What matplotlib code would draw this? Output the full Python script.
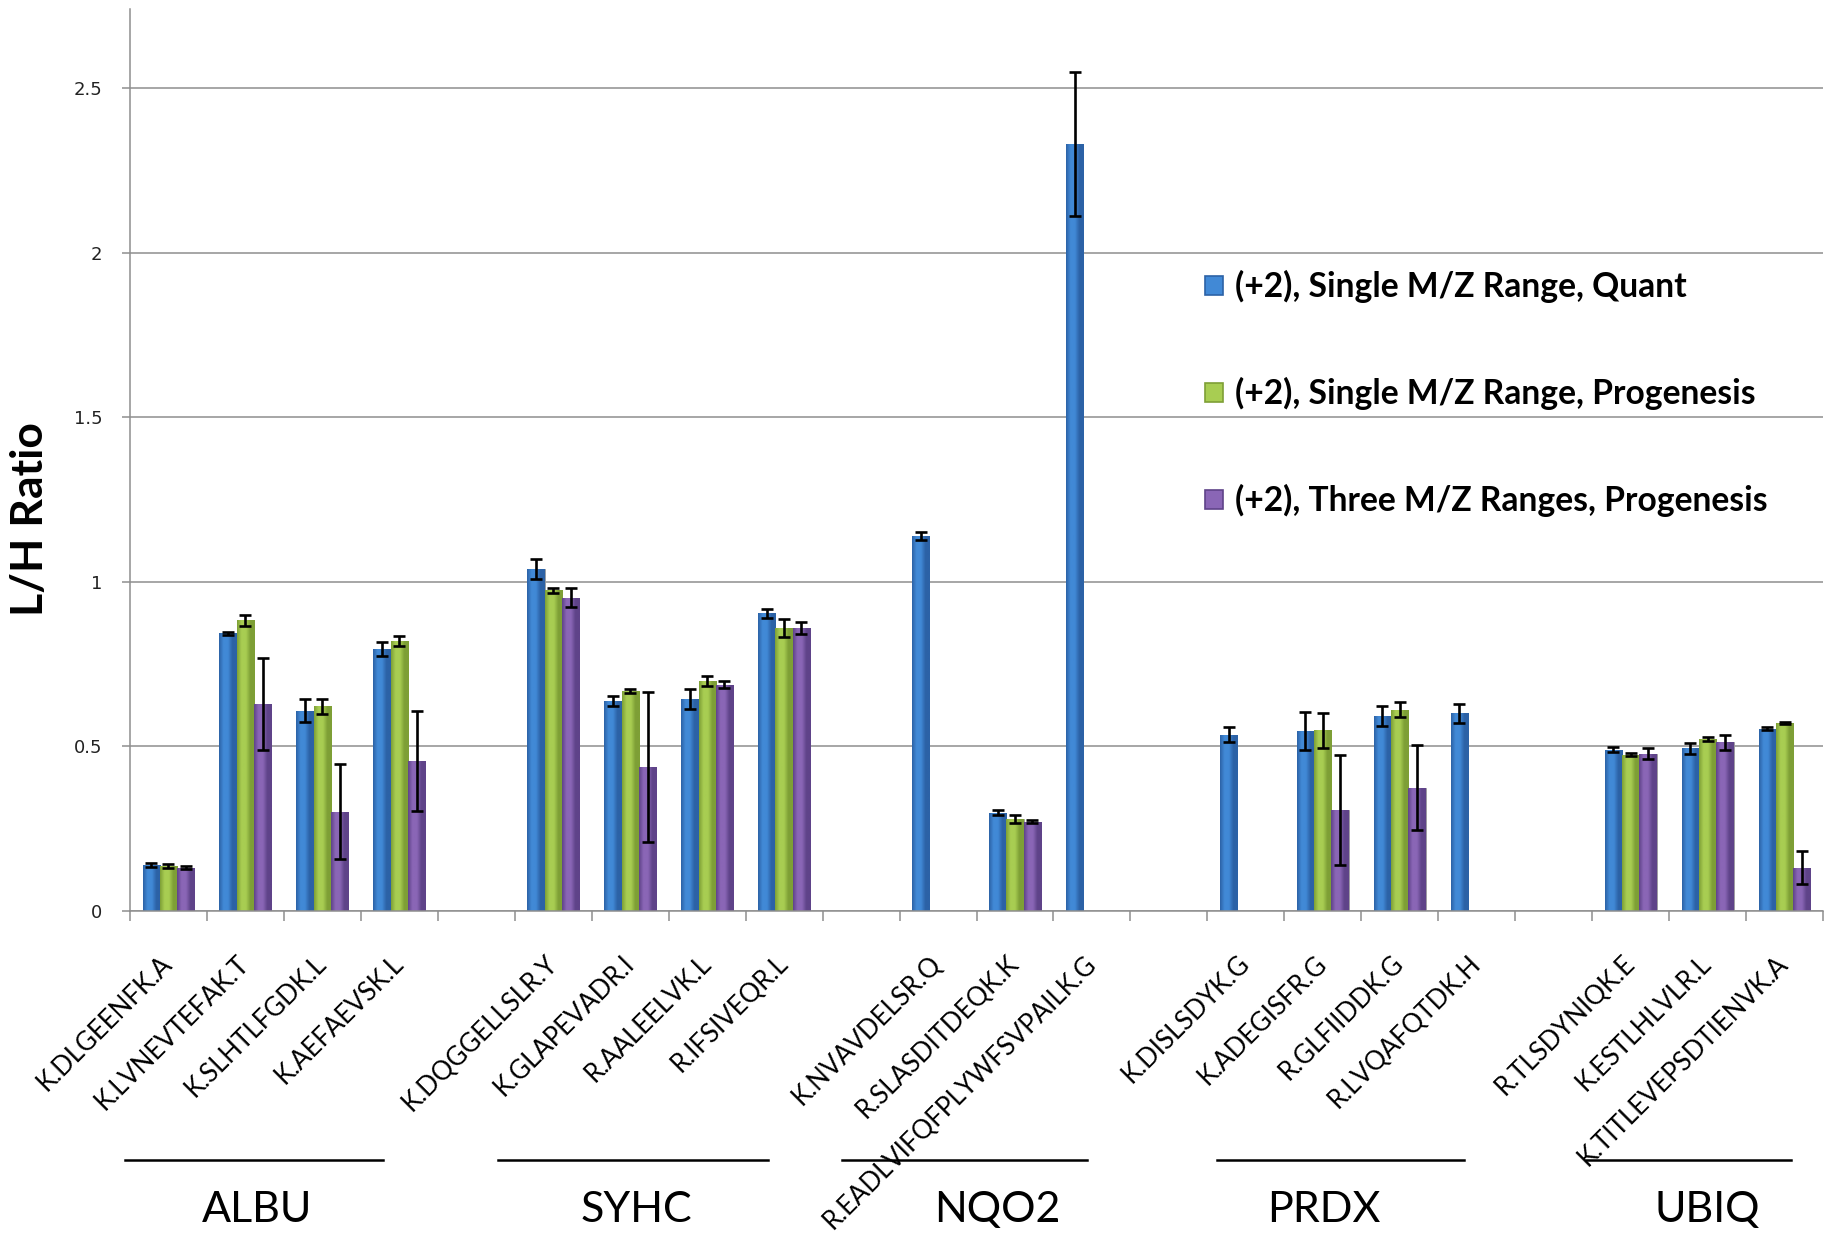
import numpy as np
import matplotlib
matplotlib.use("Agg")
import matplotlib.pyplot as plt
from matplotlib.colors import LinearSegmentedColormap
from matplotlib.patches import Patch
from matplotlib.lines import Line2D

nan = np.nan

# ---------------- data ----------------
peptides = ["K.DLGEENFK.A", "K.LVNEVTEFAK.T", "K.SLHTLFGDK.L", "K.AEFAEVSK.L", "",
            "K.DQGGELLSLR.Y", "K.GLAPEVADR.I", "R.AALEELVK.L", "R.IFSIVEQR.L", "",
            "K.NVAVDELSR.Q", "R.SLASDITDEQK.K", "R.EADLVIFQFPLYWFSVPAILK.G", "",
            "K.DISLSDYK.G", "K.ADEGISFR.G", "R.GLFIIDDK.G", "R.LVQAFQTDK.H", "",
            "R.TLSDYNIQK.E", "K.ESTLHLVLR.L", "K.TITLEVEPSDTIENVK.A"]

quant_single = [0.140, 0.843, 0.609, 0.797, nan,
                1.040, 0.638, 0.644, 0.904, nan,
                1.140, 0.299, 2.330, nan,
                0.536, 0.546, 0.593, 0.600, nan,
                0.490, 0.494, 0.554]
quant_single_err = [0.005, 0.005, 0.035, 0.021, nan,
                    0.030, 0.014, 0.029, 0.014, nan,
                    0.012, 0.008, 0.220, nan,
                    0.023, 0.058, 0.030, 0.029, nan,
                    0.008, 0.016, 0.004]

prog_single = [0.137, 0.883, 0.622, 0.820, nan,
               0.974, 0.669, 0.698, 0.860, nan,
               nan, 0.279, nan, nan,
               nan, 0.549, 0.612, nan, nan,
               0.475, 0.523, 0.571]
prog_single_err = [0.005, 0.017, 0.023, 0.015, nan,
                   0.007, 0.006, 0.015, 0.027, nan,
                   nan, 0.012, nan, nan,
                   nan, 0.053, 0.023, nan, nan,
                   0.004, 0.006, 0.004]

prog_three = [0.132, 0.630, 0.302, 0.456, nan,
              0.952, 0.437, 0.688, 0.859, nan,
              nan, 0.271, nan, nan,
              nan, 0.307, 0.375, nan, nan,
              0.478, 0.512, 0.132]
prog_three_err = [0.005, 0.140, 0.144, 0.153, nan,
                  0.030, 0.227, 0.012, 0.019, nan,
                  nan, 0.005, nan, nan,
                  nan, 0.167, 0.130, nan, nan,
                  0.016, 0.023, 0.051]

series_names = ["(+2), Single M/Z Range, Quant",
                "(+2), Single M/Z Range, Progenesis",
                "(+2), Three M/Z Ranges, Progenesis"]

proteins = ["ALBU", "SYHC", "NQO2", "PRDX", "UBIQ"]
y_ticks = [0, 0.5, 1, 1.5, 2, 2.5]
y_tick_labels = ["0", "0.5", "1", "1.5", "2", "2.5"]

# ---------------- style ----------------
# (dark edge, light centre) for each series
series_colors = [("#2C62A6", "#4189D6"),
                 ("#7E9F36", "#A8CD52"),
                 ("#5F4389", "#8A66B6")]
grid_color = "#8E8E8E"
label_font = ["Lato", "DejaVu Sans"]

fig = plt.figure(figsize=(18.29, 12.40), dpi=100)
ax = fig.add_axes([130 / 1829, (1240 - 911) / 1240, 1693 / 1829, 902 / 1240])

n = len(peptides)
x = np.arange(n)
bw = 0.225
offsets = [-bw, 0.0, bw]
all_vals = [quant_single, prog_single, prog_three]
all_errs = [quant_single_err, prog_single_err, prog_three_err]

ax.set_xlim(-0.5, n - 0.5)
ax.set_ylim(0, 2.74)

for i, (vals, errs) in enumerate(zip(all_vals, all_errs)):
    v = np.array(vals, dtype=float)
    e = np.array(errs, dtype=float)
    dark, light = series_colors[i]
    bars = ax.bar(x + offsets[i], np.nan_to_num(v), width=bw, color=light,
                  edgecolor="#9a9a9a", linewidth=0.6, zorder=2)
    cmap = LinearSegmentedColormap.from_list(
        f"s{i}", [dark, light, light, dark, dark], N=64)
    grad = np.linspace(0, 1, 64).reshape(1, -1)
    for b, val in zip(bars, v):
        if np.isnan(val) or val <= 0:
            b.set_visible(False)
            continue
        x0, w, h = b.get_x(), b.get_width(), b.get_height()
        im = ax.imshow(grad, cmap=cmap, aspect="auto", extent=(x0, x0 + w, 0, h),
                       zorder=2.5, interpolation="bilinear")
        im.set_clip_path(b)
    ax.errorbar(x + offsets[i], v, yerr=e, fmt="none", ecolor="black",
                elinewidth=1.9, capsize=4.5, capthick=1.9, zorder=4)

ax.set_xlim(-0.5, n - 0.5)
ax.set_ylim(0, 2.74)

# grid & spines
ax.set_yticks(y_ticks)
ax.set_yticklabels(y_tick_labels, fontsize=13, family="DejaVu Sans", color="#222222")
ax.yaxis.grid(True, color=grid_color, linewidth=1.1, zorder=0)
ax.set_axisbelow(True)
for s in ["top", "right"]:
    ax.spines[s].set_visible(False)
for s in ["left", "bottom"]:
    ax.spines[s].set_color(grid_color)
    ax.spines[s].set_linewidth(1.1)
ax.tick_params(axis="y", length=6, width=1.1, color=grid_color, pad=14)

# x ticks: boundaries as major ticks, labels at slot centres
ax.set_xticks(np.arange(n + 1) - 0.5)
ax.set_xticklabels([])
ax.tick_params(axis="x", which="major", length=7, width=1.1, color=grid_color)
ax.set_xticks(x, minor=True)
ax.set_xticklabels(peptides, minor=True, rotation=45, ha="right", va="center",
                   rotation_mode="anchor", fontsize=18.5, family=label_font)
ax.tick_params(axis="x", which="minor", length=0, pad=35)

ax.set_ylabel("L/H Ratio", fontsize=32, fontweight="bold", family=label_font)
ax.yaxis.set_label_coords(-0.0473, 0.4346)

# protein group lines and names (figure pixel layout)
W, H = 1829, 1240
group_lines = [(125, 383), (498, 768), (842, 1087), (1217, 1464), (1586, 1791)]
group_centers = [257, 636, 997, 1324, 1707]
for (a, b), c, name in zip(group_lines, group_centers, proteins):
    fig.add_artist(Line2D([a / W, b / W], [1 - 1159.5 / H] * 2,
                          transform=fig.transFigure, color="black", linewidth=1.8))
    fig.text(c / W, 1 - 1210 / H, name, ha="center", va="center",
             fontsize=31, family=label_font)

# legend
handles = [Patch(facecolor=series_colors[i][1], edgecolor=series_colors[i][0],
                 linewidth=1.2) for i in range(3)]
leg = ax.legend(handles, series_names, loc="upper left",
                bbox_to_anchor=(1175 / W, 1 - 240 / H), bbox_transform=fig.transFigure,
                frameon=False, handlelength=0.52, handleheight=0.52,
                handletextpad=0.36, labelspacing=2.2,
                prop={"family": label_font, "weight": "bold", "size": 24.2})

fig.savefig("out.png", dpi=100)
